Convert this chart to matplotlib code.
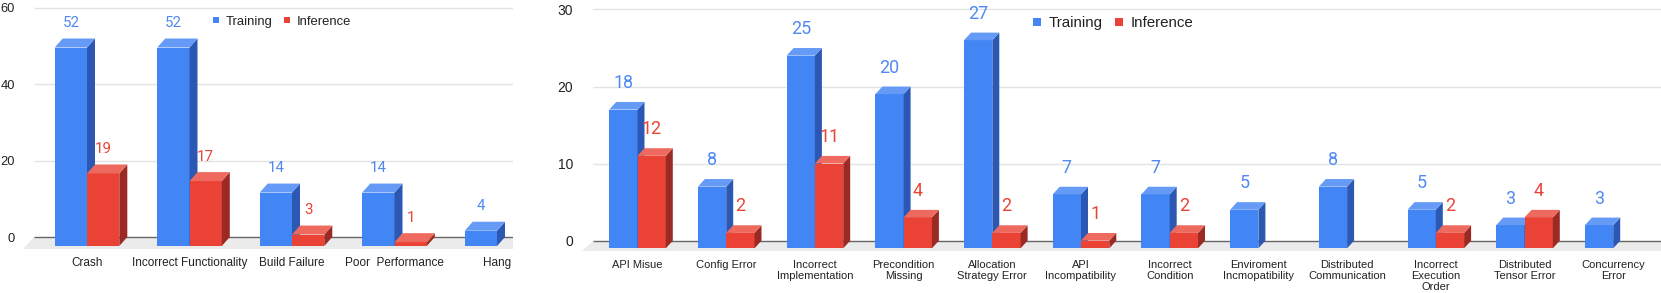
import matplotlib
matplotlib.use("Agg")
import matplotlib.pyplot as plt
from matplotlib.patches import Polygon
from matplotlib.lines import Line2D

W, H, DPI = 1661, 293, 100
plt.rcParams['font.family'] = ['Liberation Sans', 'DejaVu Sans']
VAL_FONT = ['Roboto', 'DejaVu Sans']

# ---------------- data ----------------
left_categories = ["Crash", "Incorrect Functionality", "Build Failure",
                   "Poor  Performance", "Hang"]
left_training = [52, 52, 14, 14, 4]
left_inference = [19, 17, 3, 1, 0]
left_yticks = [0, 20, 40, 60]

right_categories = ["API Misue", "Config Error", "Incorrect\nImplementation",
                    "Precondition\nMissing", "Allocation\nStrategy Error",
                    "API\nIncompatibility", "Incorrect\nCondition",
                    "Enviroment\nIncmopatibility", "Distributed\nCommunication",
                    "Incorrect\nExecution\nOrder", "Distributed\nTensor Error",
                    "Concurrency\nError"]
right_training = [18, 8, 25, 20, 27, 7, 7, 5, 8, 5, 3, 3]
right_inference = [12, 2, 11, 4, 2, 1, 2, 0, 0, 2, 4, 0]
right_yticks = [0, 10, 20, 30]

series_names = ["Training", "Inference"]

# ---------------- style ----------------
BLUE, BLUE_TOP, BLUE_SIDE = "#4285F4", "#659BF6", "#2C58B4"
RED, RED_TOP, RED_SIDE = "#EA4335", "#EE695E", "#9C2A24"
BLUE_LBL, RED_LBL = "#5089F2", "#EA4335"
TXT = "#222222"

fig = plt.figure(figsize=(W / DPI, H / DPI), dpi=DPI)


def draw_panel(cfg, cats, train, infer, yticks):
    x0, y0, x1, y1 = cfg['ax_px']
    ax = fig.add_axes([x0 / W, 1 - y1 / H, (x1 - x0) / W, (y1 - y0) / H])
    sp, c0, ppu, z = cfg['spacing'], cfg['c0'], cfg['ppu'], cfg['zero']
    xl = ((x0 - c0) / sp, (x1 - c0) / sp)
    yl = ((z - y1) / ppu, (z - y0) / ppu)
    ax.set_xlim(*xl)
    ax.set_ylim(*yl)
    for s in ax.spines.values():
        s.set_visible(False)
    ax.set_facecolor('none')

    back_left = (cfg['back_left'] - c0) / sp
    # floor
    fdx, fdy = cfg['floor_dx'] / sp, cfg['floor_dy'] / ppu
    ax.add_patch(Polygon([(back_left, 0), (xl[1], 0), (xl[1], -fdy),
                          (back_left - fdx, -fdy)], closed=True,
                         facecolor="#EBEBEB", edgecolor='none', zorder=0.5))
    # grid
    ax.hlines([t for t in yticks if t != 0], back_left, xl[1],
              colors="#E3E3E3", linewidth=1.0, zorder=0.4)
    ax.hlines([0], back_left, xl[1], colors="#666666", linewidth=1.0, zorder=0.8)

    w = cfg['bar_w'] / sp
    dx, dy = cfg['dx'] / sp, cfg['dy'] / ppu
    n = len(cats)
    xs = list(range(n))

    series = [(train, [x - w for x in xs], BLUE, BLUE_TOP, BLUE_SIDE, BLUE_LBL),
              (infer, list(xs), RED, RED_TOP, RED_SIDE, RED_LBL)]
    zo = 2
    for i in range(n):
        for vals, lefts, cf, ct, cs, cl in series:
            v = vals[i]
            if v <= 0:
                continue
            xL = lefts[i]
            ax.bar([xL], [v], bottom=-dy, width=w, align='edge', color=cf,
                   linewidth=0, zorder=zo)
            ax.add_patch(Polygon([(xL + w, -dy), (xL + w + dx, 0), (xL + w + dx, v),
                                  (xL + w, v - dy)], closed=True, facecolor=cs,
                                 edgecolor='none', zorder=zo))
            ax.add_patch(Polygon([(xL, v - dy), (xL + w, v - dy), (xL + w + dx, v),
                                  (xL + dx, v)], closed=True, facecolor=ct,
                                 edgecolor='none', zorder=zo))
            ax.annotate(str(v), xy=(xL + w / 2, v),
                        xytext=(0, cfg['lbl_off'] * 0.72), textcoords='offset points',
                        ha='center', va='center', color=cl, family=VAL_FONT,
                        fontsize=cfg['val_fs'], zorder=10)
            zo += 1

    ax.set_yticks(yticks)
    ax.set_yticklabels([str(t) for t in yticks], fontsize=cfg['ytick_fs'], color=TXT)
    ax.set_xticks(xs)
    ax.set_xticklabels(cats, fontsize=cfg['xtick_fs'], color=TXT,
                       linespacing=cfg['linesp'], va='top')
    ax.tick_params(axis='y', length=0, pad=cfg['ypad'])
    ax.tick_params(axis='x', length=0, pad=cfg['xpad'])

    handles = [Line2D([], [], marker='s', linestyle='none', markersize=cfg['leg_ms'],
                      color=c, markeredgewidth=0) for c in (BLUE, RED)]
    lx, ly = cfg['leg_xy']
    ax.legend(handles, series_names, loc='center left',
              bbox_to_anchor=(lx / W, 1 - ly / H), bbox_transform=fig.transFigure,
              ncol=2, frameon=False, fontsize=cfg['leg_fs'], handlelength=0.7,
              handletextpad=0.4, columnspacing=0.75, borderpad=0, borderaxespad=0,
              labelcolor=TXT)
    return ax


left_cfg = dict(ax_px=(18, 2, 513, 253), c0=87.0, spacing=102.5, ppu=3.817,
                zero=237.0, back_left=34.0, floor_dx=11, floor_dy=12,
                bar_w=32.3, dx=8, dy=9, lbl_off=15.5, val_fs=10.8,
                ytick_fs=9.3, xtick_fs=8.5, linesp=1.15, ypad=2.2, xpad=2.6,
                leg_ms=5.0, leg_fs=9.4, leg_xy=(211.5, 21.7))
right_cfg = dict(ax_px=(578, 2, 1661, 253), c0=637.5, spacing=88.7, ppu=7.707,
                 zero=240.7, back_left=592.7, floor_dx=10.7, floor_dy=10,
                 bar_w=28.3, dx=7, dy=7.6, lbl_off=19, val_fs=12.9,
                 ytick_fs=10.0, xtick_fs=8.0, linesp=1.15, ypad=3.4, xpad=4.8,
                 leg_ms=5.8, leg_fs=10.9, leg_xy=(1032, 23.3))

draw_panel(left_cfg, left_categories, left_training, left_inference, left_yticks)
draw_panel(right_cfg, right_categories, right_training, right_inference, right_yticks)

fig.savefig("out.png", dpi=DPI, facecolor='white')
